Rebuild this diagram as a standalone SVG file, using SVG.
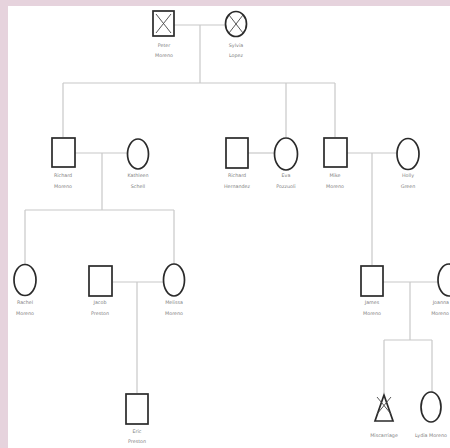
<svg xmlns="http://www.w3.org/2000/svg" width="450" height="448" viewBox="0 0 450 448">
<style>
.bg{fill:#e6d3dd}
.m{fill:#fff;stroke:#2a2a2a;stroke-width:1.7}
.x{stroke:#444;stroke-width:0.9;fill:none}
.c line{stroke:#c8c8c8;stroke-width:1.2;fill:none}
text{font-family:"DejaVu Sans","Liberation Sans",sans-serif;font-size:4.8px;fill:#808080;text-anchor:middle}
</style>
<rect x="0" y="0" width="450" height="448" fill="#fff"/>
<rect class="bg" x="0" y="0" width="450" height="6"/>
<rect class="bg" x="0" y="0" width="8" height="448"/>
<g id="connectors" class="c">
<line x1="174" y1="25" x2="225" y2="25"/>
<line x1="200" y1="25" x2="200" y2="83"/>
<line x1="63" y1="83" x2="335" y2="83"/>
<line x1="63" y1="83" x2="63" y2="137"/>
<line x1="286" y1="83" x2="286" y2="137"/>
<line x1="335" y1="83" x2="335" y2="137"/>
<line x1="75" y1="153" x2="127" y2="153"/>
<line x1="102" y1="153" x2="102" y2="210"/>
<line x1="248" y1="153" x2="274" y2="153"/>
<line x1="347" y1="153" x2="397" y2="153"/>
<line x1="372" y1="153" x2="372" y2="265"/>
<line x1="25" y1="210" x2="174" y2="210"/>
<line x1="25" y1="210" x2="25" y2="265"/>
<line x1="174" y1="210" x2="174" y2="264"/>
<line x1="113" y1="282" x2="163" y2="282"/>
<line x1="137" y1="282" x2="137" y2="393"/>
<line x1="383" y1="282" x2="438" y2="282"/>
<line x1="410" y1="282" x2="410" y2="340"/>
<line x1="384" y1="340" x2="432" y2="340"/>
<line x1="384" y1="340" x2="384" y2="393"/>
<line x1="432" y1="340" x2="432" y2="392"/>
</g>
<g id="peter"><rect class="m" x="153" y="11" width="21" height="25"/><path class="x" d="M156 14L171 33M171 14L156 33"/><text x="164" y="47">Peter</text><text x="164" y="57">Moreno</text></g>
<g id="sylvia"><ellipse class="m" cx="236" cy="24" rx="10.5" ry="12.5"/><path class="x" d="M229 15L243 33M243 15L229 33"/><text x="236" y="47">Sylvia</text><text x="236" y="57">Lopez</text></g>
<g id="richard"><rect class="m" x="52" y="138" width="23" height="29"/><text x="63" y="177">Richard</text><text x="63" y="188">Moreno</text></g>
<g id="kathleen"><ellipse class="m" cx="138" cy="154" rx="10.5" ry="15"/><text x="138" y="177">Kathleen</text><text x="138" y="188">Schell</text></g>
<g id="hernandez"><rect class="m" x="226" y="138" width="22" height="30"/><text x="237" y="177">Richard</text><text x="237" y="188">Hernandez</text></g>
<g id="eva"><ellipse class="m" cx="286" cy="154" rx="11.5" ry="16"/><text x="286" y="177">Eva</text><text x="286" y="188">Pozzuoli</text></g>
<g id="mike"><rect class="m" x="324" y="138" width="23" height="29"/><text x="335" y="177">Mike</text><text x="335" y="188">Moreno</text></g>
<g id="holly"><ellipse class="m" cx="408" cy="154" rx="11" ry="15.5"/><text x="408" y="177">Holly</text><text x="408" y="188">Green</text></g>
<g id="rachel"><ellipse class="m" cx="25" cy="280" rx="11" ry="15.5"/><text x="25" y="304">Rachel</text><text x="25" y="315">Moreno</text></g>
<g id="jacob"><rect class="m" x="89" y="266" width="23" height="30"/><text x="100" y="304">Jacob</text><text x="100" y="315">Preston</text></g>
<g id="melissa"><ellipse class="m" cx="174" cy="280" rx="10.5" ry="16"/><text x="174" y="304">Melissa</text><text x="174" y="315">Moreno</text></g>
<g id="james"><rect class="m" x="361" y="266" width="22" height="30"/><text x="372" y="304">James</text><text x="372" y="315">Moreno</text></g>
<g id="jo"><ellipse class="m" cx="449" cy="280" rx="11" ry="16"/><text x="449" y="304" style="text-anchor:end">Joanna</text><text x="449" y="315" style="text-anchor:end">Moreno</text></g>
<g id="eric"><rect class="m" x="126" y="394" width="22" height="30"/><text x="137" y="433">Eric</text><text x="137" y="443">Preston</text></g>
<g id="miscarriage"><polygon class="m" points="384,395 375,421 393,421"/><path class="x" d="M377 397L391 414M391 397L377 414"/><text x="384" y="437">Miscarriage</text></g>
<g id="lydia"><ellipse class="m" cx="431" cy="407" rx="10" ry="15"/><text x="431" y="437">Lydia Moreno</text></g>
</svg>
